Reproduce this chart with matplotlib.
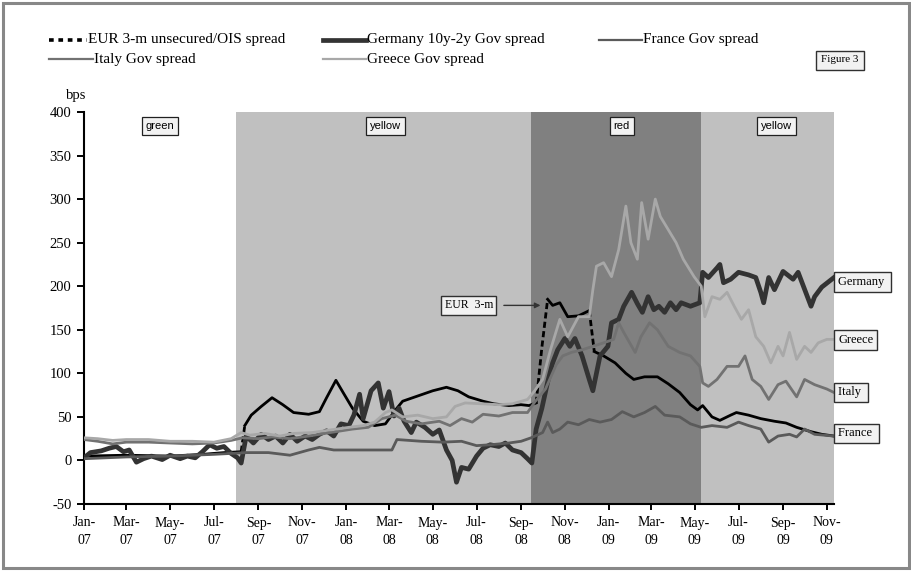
"""Figure 3: euro-area money market and government bond spreads, 2007-2009."""

import matplotlib

matplotlib.use("Agg")
import matplotlib.dates as mdates
import matplotlib.pyplot as plt
import pandas as pd
from matplotlib.lines import Line2D
from matplotlib.patches import Rectangle

plt.rcParams["font.family"] = ["Liberation Serif", "DejaVu Serif"]
plt.rcParams["axes.unicode_minus"] = False

# ---- data (bps) ------------------------------------------------------------
eur_dates = [
    "2007-01-01", "2007-03-01", "2007-05-01", "2007-06-15", "2007-07-15", "2007-08-08",
    "2007-08-13", "2007-08-22", "2007-09-05", "2007-09-20", "2007-10-05", "2007-10-20",
    "2007-11-10", "2007-11-25", "2007-12-05", "2007-12-18", "2007-12-28", "2008-01-10",
    "2008-01-25", "2008-02-10", "2008-02-25", "2008-03-10", "2008-03-20", "2008-04-10",
    "2008-05-01", "2008-05-20", "2008-06-05", "2008-06-20", "2008-07-10", "2008-07-25",
    "2008-08-15", "2008-09-01", "2008-09-12", "2008-09-22", "2008-09-30", "2008-10-08",
    "2008-10-15", "2008-10-25", "2008-11-05", "2008-11-20", "2008-12-05", "2008-12-12",
    "2008-12-25", "2009-01-10", "2009-01-25", "2009-02-05", "2009-02-20", "2009-03-10",
    "2009-03-25", "2009-04-10", "2009-04-25", "2009-05-05", "2009-05-12", "2009-05-25",
    "2009-06-05", "2009-06-20", "2009-06-28", "2009-07-15", "2009-08-01", "2009-08-20",
    "2009-09-05", "2009-09-20", "2009-10-10", "2009-10-25", "2009-11-11",
]
eur_vals = [
    5, 6, 5, 7, 9, 10,
    40, 52, 62, 72, 64, 55,
    53, 56, 72, 92, 78, 60,
    45, 40, 42, 58, 68, 74,
    80, 84, 80, 73, 68, 65,
    63, 64, 63, 66, 130, 185,
    178, 181, 165, 166, 172, 125,
    120, 112, 100, 93, 96, 96,
    88, 78, 64, 58, 63, 50,
    46, 52, 55, 52, 48, 45,
    43, 38, 33, 30, 28,
]
# stretches where the dotted EUR line is steep enough to show its dashes
eur_steep = [("2007-08-08", "2007-08-13"), ("2008-09-22", "2008-10-08"), ("2008-12-05", "2008-12-12")]

ger_dates = [
    "2007-01-01", "2007-01-10", "2007-01-25", "2007-02-05", "2007-02-15", "2007-02-25",
    "2007-03-05", "2007-03-15", "2007-03-25", "2007-04-05", "2007-04-20", "2007-05-01",
    "2007-05-15", "2007-05-25", "2007-06-05", "2007-06-15", "2007-06-25", "2007-07-05",
    "2007-07-15", "2007-07-25", "2007-08-03", "2007-08-08", "2007-08-15", "2007-08-25",
    "2007-09-05", "2007-09-15", "2007-09-25", "2007-10-05", "2007-10-15", "2007-10-25",
    "2007-11-05", "2007-11-15", "2007-11-25", "2007-12-05", "2007-12-15", "2007-12-25",
    "2008-01-05", "2008-01-12", "2008-01-20", "2008-01-25", "2008-02-05", "2008-02-15",
    "2008-02-22", "2008-03-01", "2008-03-08", "2008-03-15", "2008-03-22", "2008-04-01",
    "2008-04-08", "2008-04-20", "2008-05-01", "2008-05-10", "2008-05-20", "2008-05-28",
    "2008-06-03", "2008-06-10", "2008-06-20", "2008-07-01", "2008-07-10", "2008-07-20",
    "2008-08-01", "2008-08-10", "2008-08-20", "2008-09-01", "2008-09-10", "2008-09-16",
    "2008-09-22", "2008-09-30", "2008-10-08", "2008-10-15", "2008-10-22", "2008-11-01",
    "2008-11-08", "2008-11-15", "2008-11-25", "2008-12-05", "2008-12-10", "2008-12-20",
    "2008-12-31", "2009-01-05", "2009-01-15", "2009-01-22", "2009-02-02", "2009-02-10",
    "2009-02-17", "2009-02-25", "2009-03-05", "2009-03-12", "2009-03-20", "2009-03-28",
    "2009-04-05", "2009-04-12", "2009-04-25", "2009-05-08", "2009-05-12", "2009-05-20",
    "2009-06-01", "2009-06-05", "2009-06-10", "2009-06-20", "2009-07-01", "2009-07-15",
    "2009-07-25", "2009-08-01", "2009-08-05", "2009-08-12", "2009-08-20", "2009-09-01",
    "2009-09-15", "2009-09-22", "2009-10-10", "2009-10-15", "2009-10-25", "2009-11-11",
]
ger_vals = [
    3, 9, 11, 14, 16, 10,
    12, -2, 2, 5, 1, 6,
    2, 5, 3, 10, 18, 14,
    16, 8, 3, -3, 28, 20,
    30, 24, 28, 20, 30, 22,
    28, 24, 30, 34, 28, 42,
    40, 52, 76, 48, 80, 89,
    60, 79, 51, 60, 45, 32,
    44, 38, 30, 35, 12, 0,
    -25, -8, -10, 5, 14, 18,
    16, 20, 12, 9, 2, -3,
    36, 60, 90, 112, 127, 140,
    131, 140, 120, 93, 80, 120,
    131, 158, 162, 177, 193, 180,
    170, 188, 173, 177, 170, 181,
    173, 181, 177, 181, 216, 210,
    221, 225, 204, 208, 216, 213,
    210, 193, 181, 210, 196, 217,
    208, 216, 177, 188, 199, 210,
]

fra_dates = [
    "2007-01-01", "2007-03-01", "2007-05-01", "2007-07-01", "2007-08-15", "2007-09-15",
    "2007-10-15", "2007-11-10", "2007-11-25", "2007-12-15", "2008-01-15", "2008-02-15",
    "2008-03-05", "2008-03-12", "2008-04-15", "2008-05-15", "2008-06-10", "2008-07-01",
    "2008-07-20", "2008-08-15", "2008-09-01", "2008-09-15", "2008-10-01", "2008-10-08",
    "2008-10-15", "2008-10-25", "2008-11-05", "2008-11-20", "2008-12-05", "2008-12-20",
    "2009-01-05", "2009-01-20", "2009-02-05", "2009-02-20", "2009-03-07", "2009-03-20",
    "2009-04-10", "2009-04-25", "2009-05-10", "2009-05-25", "2009-06-15", "2009-07-01",
    "2009-07-15", "2009-08-01", "2009-08-12", "2009-08-25", "2009-09-10", "2009-09-20",
    "2009-10-01", "2009-10-15", "2009-11-11",
]
fra_vals = [
    2, 4, 5, 7, 9, 9,
    6, 12, 15, 12, 12, 12,
    12, 24, 22, 21, 22, 17,
    18, 20, 22, 26, 32, 44,
    32, 36, 44, 41, 47, 44,
    47, 56, 50, 55, 62, 52,
    50, 42, 38, 40, 38, 44,
    40, 36, 21, 28, 30, 27,
    36, 30, 28,
]

ita_dates = [
    "2007-01-01", "2007-01-20", "2007-02-10", "2007-03-01", "2007-04-01", "2007-05-01",
    "2007-06-01", "2007-07-01", "2007-07-25", "2007-08-10", "2007-09-01", "2007-09-20",
    "2007-10-15", "2007-11-10", "2007-12-10", "2008-01-10", "2008-02-01", "2008-02-20",
    "2008-03-10", "2008-03-25", "2008-04-15", "2008-05-10", "2008-05-25", "2008-06-10",
    "2008-06-25", "2008-07-10", "2008-08-01", "2008-08-20", "2008-09-10", "2008-09-20",
    "2008-10-05", "2008-10-20", "2008-10-29", "2008-11-10", "2008-11-25", "2008-12-10",
    "2008-12-25", "2009-01-08", "2009-01-15", "2009-01-22", "2009-02-07", "2009-02-15",
    "2009-02-27", "2009-03-10", "2009-03-25", "2009-04-10", "2009-04-25", "2009-05-08",
    "2009-05-12", "2009-05-20", "2009-06-01", "2009-06-15", "2009-07-01", "2009-07-10",
    "2009-07-20", "2009-08-01", "2009-08-12", "2009-08-25", "2009-09-05", "2009-09-20",
    "2009-10-01", "2009-10-15", "2009-11-01", "2009-11-11",
]
ita_vals = [
    24, 22, 19, 21, 21, 20,
    19, 20, 23, 26, 25, 27,
    25, 28, 32, 36, 38, 48,
    52, 45, 42, 45, 40, 48,
    44, 53, 51, 55, 55, 67,
    82, 110, 120, 124, 127, 131,
    135, 139, 158, 147, 124, 142,
    158, 150, 131, 124, 120, 108,
    89, 85, 93, 108, 108, 120,
    93, 85, 70, 87, 91, 73,
    93, 87, 82, 78,
]

gre_dates = [
    "2007-01-01", "2007-01-20", "2007-02-10", "2007-03-01", "2007-04-01", "2007-05-01",
    "2007-06-01", "2007-07-01", "2007-07-25", "2007-08-08", "2007-08-20", "2007-09-10",
    "2007-10-01", "2007-10-20", "2007-11-15", "2007-12-10", "2008-01-05", "2008-01-25",
    "2008-02-10", "2008-02-25", "2008-03-05", "2008-03-20", "2008-04-10", "2008-05-01",
    "2008-05-20", "2008-06-01", "2008-06-15", "2008-07-10", "2008-08-01", "2008-08-20",
    "2008-09-10", "2008-09-20", "2008-10-01", "2008-10-12", "2008-10-25", "2008-11-05",
    "2008-11-20", "2008-12-05", "2008-12-10", "2008-12-15", "2008-12-25", "2009-01-05",
    "2009-01-15", "2009-01-25", "2009-02-01", "2009-02-10", "2009-02-16", "2009-02-25",
    "2009-03-07", "2009-03-14", "2009-03-25", "2009-04-05", "2009-04-15", "2009-04-30",
    "2009-05-10", "2009-05-15", "2009-05-25", "2009-06-05", "2009-06-15", "2009-06-25",
    "2009-07-05", "2009-07-15", "2009-07-25", "2009-08-05", "2009-08-15", "2009-08-25",
    "2009-09-01", "2009-09-10", "2009-09-20", "2009-10-01", "2009-10-10", "2009-10-20",
    "2009-11-01", "2009-11-11",
]
gre_vals = [
    26, 25, 23, 24, 24, 22,
    22, 21, 25, 32, 29, 31,
    28, 31, 32, 35, 38, 40,
    44, 55, 58, 50, 52, 48,
    50, 62, 66, 65, 64, 65,
    70, 80, 93, 127, 162, 142,
    165, 165, 196, 223, 227, 211,
    242, 292, 250, 231, 296, 254,
    300, 280, 265, 250, 231, 211,
    200, 165, 188, 185, 193, 177,
    162, 173, 142, 131, 112, 131,
    120, 147, 116, 131, 124, 135,
    139, 139,
]

# regimes shaded behind the lines
band_names = ["green", "yellow", "red", "yellow"]
band_starts = ["2007-01-01", "2007-08-01", "2008-09-15", "2009-05-10"]
band_ends = ["2007-08-01", "2008-09-15", "2009-05-10", "2009-11-11"]

# end-of-line name tags
tag_names = ["Germany ", "Greece", "Italy ", "France "]
tag_levels = [205, 138, 78, 31]

# ---- styles ----------------------------------------------------------------
BAND_COLOR = {"green": "white", "yellow": "#c0c0c0", "red": "#808080"}
BAND_LABEL_X = ["2007-04-17", "2008-02-25", "2009-01-19", "2009-08-23"]
W, H = 911, 571
BOX = dict(boxstyle="square,pad=0.3", fc="#f2f2f2", ec="#303030", lw=1.0)


def fx(px):
    return px / W


def fy(py):
    return 1 - py / H


fig = plt.figure(figsize=(W / 100, H / 100), dpi=100)
fig.patch.set_facecolor("white")
ax = fig.add_axes([fx(84), fy(504), fx(834) - fx(84), fy(112) - fy(504)])

for name, a, b in zip(band_names, band_starts, band_ends):
    ax.axvspan(pd.Timestamp(a), pd.Timestamp(b), color=BAND_COLOR[name], lw=0, zorder=0)
for name, xd in zip(band_names, BAND_LABEL_X):
    ax.text(pd.Timestamp(xd), 384, name, ha="center", va="center", fontsize=8,
            family="Liberation Sans",
            bbox=dict(boxstyle="square,pad=0.35", fc="#f2f2f2", ec="#202020", lw=0.9), zorder=5)

# EUR 3-m: solid where flat, dashed on the steep jumps
eur = pd.Series(eur_vals, index=pd.to_datetime(eur_dates))
edges = [eur.index[0]] + [pd.Timestamp(d) for pair in eur_steep for d in pair] + [eur.index[-1]]
for i in range(len(edges) - 1):
    seg = eur[edges[i]:edges[i + 1]]
    ax.plot(seg.index, seg.values, color="black", lw=2.0,
            ls=(0, (2.2, 1.2)) if i % 2 else "-", zorder=2)

ax.plot(pd.to_datetime(ger_dates), ger_vals, color="#333333", lw=3.4, zorder=3)
ax.plot(pd.to_datetime(fra_dates), fra_vals, color="#5a5a5a", lw=2.0, zorder=3)
ax.plot(pd.to_datetime(ita_dates), ita_vals, color="#727272", lw=2.0, zorder=3)
ax.plot(pd.to_datetime(gre_dates), gre_vals, color="#a8a8a8", lw=2.0, zorder=3)

ax.set_xlim(pd.Timestamp("2007-01-01"), pd.Timestamp("2009-11-11"))
ax.set_ylim(-50, 400)
ax.set_yticks(range(-50, 401, 50))
ax.xaxis.set_major_locator(mdates.MonthLocator(bymonth=[1, 3, 5, 7, 9, 11]))
ax.xaxis.set_major_formatter(mdates.DateFormatter("%b-\n%y"))
ax.tick_params(axis="y", direction="out", length=5, width=1.4, pad=4, labelsize=10.5)
ax.tick_params(axis="x", direction="out", length=4, width=1.4, pad=5, labelsize=10)
plt.setp(ax.get_xticklabels(), linespacing=1.45)
for side in ("top", "right"):
    ax.spines[side].set_visible(False)
for side in ("left", "bottom"):
    ax.spines[side].set_linewidth(1.5)
    ax.spines[side].set_color("black")

# name tags at the right edge
for name, lev in zip(tag_names, tag_levels):
    ax.annotate(name, xy=(1, lev), xycoords=ax.get_yaxis_transform(), xytext=(3, 0),
                textcoords="offset points", ha="left", va="center", fontsize=9,
                bbox=BOX, annotation_clip=False, zorder=6)

ax.annotate("EUR  3-m", xy=(pd.Timestamp("2008-09-28"), 178),
            xytext=(pd.Timestamp("2008-06-20"), 178), ha="center", va="center", fontsize=8.5,
            bbox=BOX, zorder=6,
            arrowprops=dict(arrowstyle="-|>", color="#333333", lw=1.0, mutation_scale=8,
                            shrinkA=5, shrinkB=0))

fig.text(fx(76), fy(95), "bps", ha="center", va="center", fontsize=10.5)

# legend, drawn by hand to keep the column layout of the original
leg = [
    (49, 87, 40, "EUR 3-m unsecured/OIS spread", "black", 2.6, (0, (1.3, 1.3))),
    (323, 366, 40, "Germany 10y-2y Gov spread", "#333333", 3.4, "-"),
    (599, 642, 40, "France Gov spread", "#5a5a5a", 1.6, "-"),
    (49, 93, 59, "Italy Gov spread", "#727272", 1.6, "-"),
    (323, 366, 59, "Greece Gov spread", "#a8a8a8", 1.6, "-"),
]
for x0, x1, y, label, col, lw, ls in leg:
    fig.add_artist(Line2D([fx(x0), fx(x1)], [fy(y), fy(y)], transform=fig.transFigure,
                          color=col, lw=lw, ls=ls))
    fig.text(fx(x1 + 1), fy(y), label, ha="left", va="center", fontsize=11)

fig.text(fx(840), fy(60), "Figure 3", ha="center", va="center", fontsize=8,
         bbox=dict(boxstyle="square,pad=0.45", fc="#f2f2f2", ec="#303030", lw=1.0))

fig.add_artist(Rectangle((fx(3), fy(568)), fx(906), fy(3) - fy(568), transform=fig.transFigure,
                         fill=False, ec="#888888", lw=2.2))

fig.savefig("out.png", dpi=100)
plt.close(fig)
